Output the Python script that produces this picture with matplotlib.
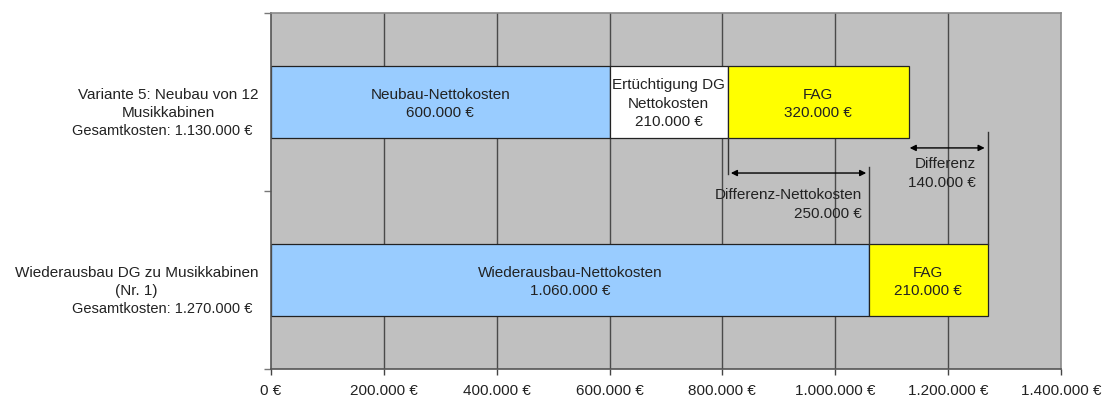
import matplotlib.pyplot as plt
import numpy as np

plt.rcParams['font.family'] = ['Liberation Sans', 'DejaVu Sans']

# categories (bottom to top)
categories = ['Wiederausbau DG zu Musikkabinen\n(Nr. 1)',
              'Variante 5: Neubau von 12\nMusikkabinen']
totals = ['Gesamtkosten: 1.270.000 €', 'Gesamtkosten: 1.130.000 €']

# segments per category: (value, label, colour)
seg_values = [[1060000, 210000],
              [600000, 210000, 320000]]
seg_labels = [['Wiederausbau-Nettokosten\n1.060.000 €', 'FAG\n210.000 €'],
              ['Neubau-Nettokosten\n600.000 €', 'Ertüchtigung DG\nNettokosten\n210.000 €', 'FAG\n320.000 €']]
seg_colors = [['#99ccff', '#ffff00'],
              ['#99ccff', '#ffffff', '#ffff00']]

xticks = np.arange(0, 1400001, 200000)
xtick_labels = ['0 €', '200.000 €', '400.000 €', '600.000 €', '800.000 €',
                '1.000.000 €', '1.200.000 €', '1.400.000 €']

txt = '#222222'
fs = 11
ls = 1.4

fig = plt.figure(figsize=(11.14, 4.0), dpi=100)
ax = fig.add_axes([0.2433, 0.0775, 0.709, 0.89])
ax.set_facecolor('#c0c0c0')

ax.set_xlim(0, 1400000)
ax.set_ylim(-0.5, 1.5)
for x in xticks[1:-1]:
    ax.axvline(x, color='#4a4a4a', lw=1.0, zorder=1)

h = 0.4
for i, (vals, labs, cols) in enumerate(zip(seg_values, seg_labels, seg_colors)):
    left = 0
    for v, lab, c in zip(vals, labs, cols):
        ax.barh(i, v, left=left, height=h, color=c, edgecolor='#222222', lw=0.9, zorder=2)
        ax.text(left + v / 2, i - 0.01, lab, ha='center', va='center', fontsize=fs,
                color=txt, linespacing=ls, zorder=3)
        left += v

# differences
top_net = sum(seg_values[1][:2])
bot_net = seg_values[0][0]
top_total = sum(seg_values[1])
bot_total = sum(seg_values[0])

lc = '#333333'
ax.plot([top_net, top_net], [1 - h / 2, 0.595], color=lc, lw=1, zorder=3)
ax.plot([bot_net, bot_net], [0.635, h / 2], color=lc, lw=1, zorder=3)
ax.plot([bot_total, bot_total], [0.83, h / 2], color=lc, lw=1, zorder=3)
ax.annotate('', xy=(top_net + 5000, 0.601), xytext=(bot_net - 5000, 0.601),
            arrowprops=dict(arrowstyle='<|-|>', color='black', lw=1, mutation_scale=9,
                            shrinkA=0, shrinkB=0), zorder=4)
ax.annotate('', xy=(top_total + 2000, 0.742), xytext=(bot_total - 5000, 0.742),
            arrowprops=dict(arrowstyle='<|-|>', color='black', lw=1, mutation_scale=9,
                            shrinkA=0, shrinkB=0), zorder=4)
ax.text(1048000, 0.425, 'Differenz-Nettokosten\n250.000 €', ha='right', va='center',
        multialignment='right', fontsize=fs, color=txt, linespacing=ls, zorder=4)
ax.text(1250000, 0.598, 'Differenz\n140.000 €', ha='right', va='center',
        multialignment='right', fontsize=fs, color=txt, linespacing=ls, zorder=4)

# axes
ax.set_xticks(xticks)
ax.set_xticklabels(xtick_labels, fontsize=fs, color=txt)
ax.tick_params(axis='x', length=4, width=1, color='#444444', pad=7)
ax.set_yticks([-0.5, 0.5, 1.5])
ax.set_yticklabels([])
ax.tick_params(axis='y', length=5, width=1, color='#777777')

ytr = ax.get_yaxis_transform()
for i, (cat, tot) in enumerate(zip(categories, totals)):
    ax.text(-0.016, i - 0.01, cat, transform=ytr, ha='right', va='center',
            multialignment='center', fontsize=fs, color=txt, linespacing=ls)
    ax.text(-0.024, i - 0.165, tot, transform=ytr, ha='right', va='center',
            fontsize=10.5, color=txt)

for s in ['left', 'bottom']:
    ax.spines[s].set_color('#555555')
    ax.spines[s].set_linewidth(1.2)
for s in ['top', 'right']:
    ax.spines[s].set_color('#8a8a8a')
    ax.spines[s].set_linewidth(1.2)

fig.savefig('out.png', dpi=100)
